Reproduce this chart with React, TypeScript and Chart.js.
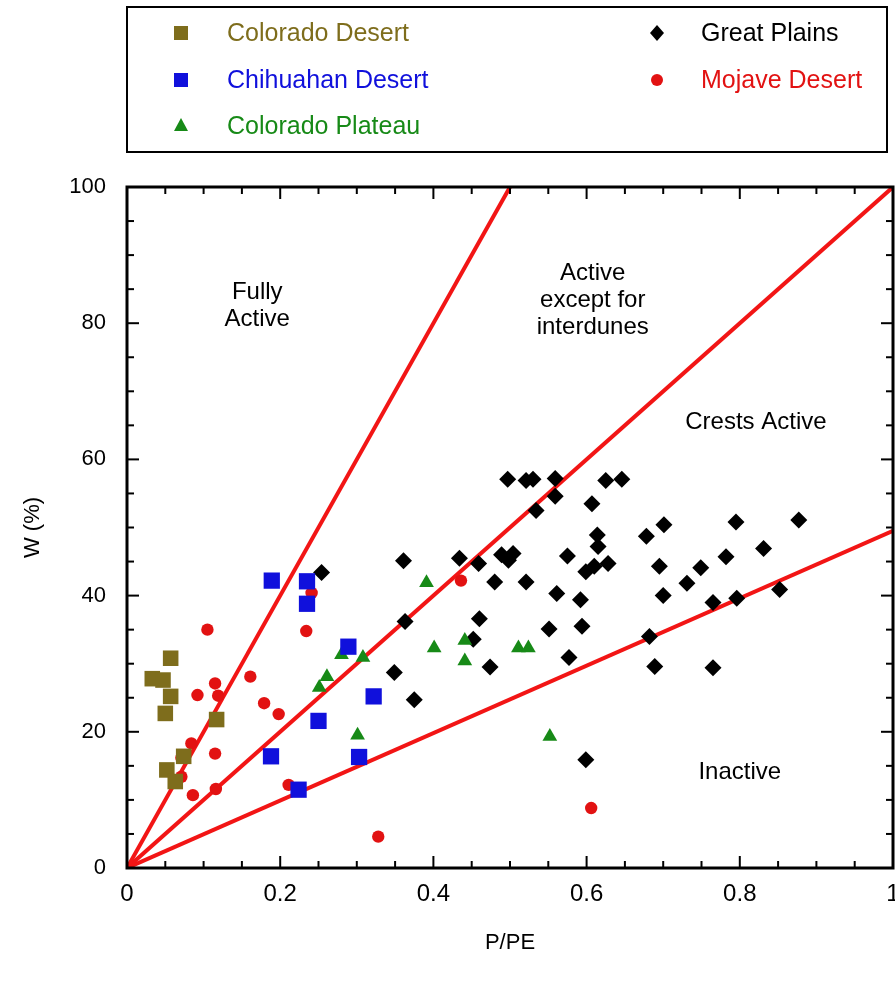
import React, { useEffect, useRef } from "react";
import { Chart, registerables } from "chart.js";

Chart.register(...registerables);

const FONT = "'Liberation Sans', Arial, Helvetica, sans-serif";

// ---- Series data (P/PE, W %) ----
const coloradoDesertX = [0.033, 0.047, 0.057, 0.057, 0.050, 0.117, 0.074, 0.052, 0.063];
const coloradoDesertY = [27.8, 27.6, 30.8, 25.2, 22.7, 21.8, 16.4, 14.4, 12.7];

const chihuahanX = [0.189, 0.235, 0.235, 0.289, 0.322, 0.250, 0.188, 0.303, 0.224];
const chihuahanY = [42.2, 42.1, 38.8, 32.5, 25.2, 21.6, 16.4, 16.3, 11.5];

const plateauX = [0.280, 0.308, 0.261, 0.251, 0.301, 0.391, 0.401, 0.441, 0.441, 0.511, 0.524, 0.552];
const plateauY = [31.3, 30.9, 28.1, 26.5, 19.5, 41.9, 32.3, 33.4, 30.4, 32.3, 32.3, 19.3];

const greatPlainsX = [
  0.254, 0.361, 0.363, 0.349, 0.375, 0.434, 0.459, 0.480, 0.460, 0.452, 0.474,
  0.489, 0.498, 0.504, 0.497, 0.521, 0.530, 0.559, 0.559, 0.534, 0.521, 0.561, 0.551, 0.577,
  0.575, 0.599, 0.610, 0.628, 0.607, 0.614, 0.615, 0.625, 0.646, 0.592, 0.594, 0.599,
  0.678, 0.701, 0.695, 0.700, 0.682, 0.689, 0.731, 0.749, 0.782, 0.795, 0.831, 0.852, 0.765, 0.796, 0.765, 0.877,
];
const greatPlainsY = [
  43.4, 45.1, 36.2, 28.7, 24.7, 45.5, 44.7, 42.0, 36.6, 33.6, 29.5,
  46.0, 45.2, 46.2, 57.1, 56.9, 57.1, 57.2, 54.6, 52.5, 42.0, 40.3, 35.1, 30.9,
  45.8, 43.5, 44.3, 44.7, 53.5, 48.9, 47.2, 56.9, 57.1, 39.4, 35.5, 15.9,
  48.7, 50.4, 44.3, 40.0, 34.0, 29.6, 41.8, 44.1, 45.7, 50.8, 46.9, 40.9, 39.0, 39.6, 29.4, 51.1,
];

const mojaveX = [0.241, 0.105, 0.234, 0.161, 0.115, 0.092, 0.119, 0.179, 0.198, 0.084, 0.071, 0.115, 0.071, 0.086, 0.116, 0.211, 0.328, 0.436, 0.606];
const mojaveY = [40.4, 35.0, 34.8, 28.1, 27.1, 25.4, 25.3, 24.2, 22.6, 18.3, 16.2, 16.8, 13.4, 10.7, 11.6, 12.2, 4.6, 42.2, 8.8];

// Boundary lines from the origin
const boundaryEndX = [0.5, 1, 1];
const boundaryEndY = [100, 100, 49.5];

// Axis ticks
const xTickValues = [0, 0.2, 0.4, 0.6, 0.8, 1];
const yTickValues = [0, 20, 40, 60, 80, 100];
const xMinorStep = 0.05;
const yMinorStep = 5;

const seriesNames = ["Colorado Desert", "Chihuahan Desert", "Colorado Plateau", "Great Plains", "Mojave Desert"];

// Region labels
const regionLabels = [["Fully", "Active"], ["Active", "except for", "interdunes"], ["Crests Active"], ["Inactive"]];
const regionLabelX = [0.17, 0.608, 0.821, 0.80];
const regionLabelY = [82.6, 83.4, 65.5, 14.0];

const COLORS = {
  olive: "#7e6d1c",
  blue: "#1010dc",
  green: "#178a17",
  black: "#000000",
  red: "#e21212",
  line: "#f21515",
};

const toPoints = (xs: number[], ys: number[]) => xs.map((x, i) => ({ x, y: ys[i] }));

function drawMarker(ctx: CanvasRenderingContext2D, style: string, x: number, y: number, color: string) {
  ctx.fillStyle = color;
  ctx.beginPath();
  if (style === "rect") {
    ctx.rect(x - 7, y - 7, 14, 14);
  } else if (style === "triangle") {
    ctx.moveTo(x, y - 8);
    ctx.lineTo(x + 7, y + 5);
    ctx.lineTo(x - 7, y + 5);
    ctx.closePath();
  } else if (style === "rectRot") {
    ctx.moveTo(x, y - 8);
    ctx.lineTo(x + 7, y);
    ctx.lineTo(x, y + 8);
    ctx.lineTo(x - 7, y);
    ctx.closePath();
  } else {
    ctx.arc(x, y, 6, 0, Math.PI * 2);
  }
  ctx.fill();
}

export default function App() {
  const ref = useRef<HTMLCanvasElement>(null);

  useEffect(() => {
    const canvas = ref.current;
    if (!canvas) return;

    const framePlugin = {
      id: "frameTicks",
      afterDatasetsDraw(chart: any) {
        const { ctx, chartArea: a, scales } = chart;
        const xs = scales.x;
        const ys = scales.y;
        ctx.save();
        ctx.strokeStyle = "#000";
        ctx.lineWidth = 2;
        const seg = (x1: number, y1: number, x2: number, y2: number) => {
          ctx.beginPath();
          ctx.moveTo(x1, y1);
          ctx.lineTo(x2, y2);
          ctx.stroke();
        };
        const nx = Math.round((xs.max - xs.min) / xMinorStep);
        for (let i = 0; i <= nx; i++) {
          const v = xs.min + i * xMinorStep;
          const px = xs.getPixelForValue(v);
          const major = xTickValues.some((t) => Math.abs(t - v) < 1e-9);
          const len = major ? 12 : 7;
          seg(px, a.bottom, px, a.bottom - len);
          seg(px, a.top, px, a.top + len);
        }
        const ny = Math.round((ys.max - ys.min) / yMinorStep);
        for (let i = 0; i <= ny; i++) {
          const v = ys.min + i * yMinorStep;
          const py = ys.getPixelForValue(v);
          const major = yTickValues.some((t) => Math.abs(t - v) < 1e-9);
          const len = major ? 12 : 7;
          seg(a.left, py, a.left + len, py);
          seg(a.right, py, a.right - len, py);
        }
        ctx.lineWidth = 3;
        ctx.strokeRect(a.left, a.top, a.right - a.left, a.bottom - a.top);
        ctx.restore();
      },
    };

    const overlayPlugin = {
      id: "overlay",
      afterDraw(chart: any) {
        const { ctx, scales } = chart;
        ctx.save();
        // Region labels
        ctx.fillStyle = "#000";
        ctx.font = `24px ${FONT}`;
        ctx.textAlign = "center";
        ctx.textBaseline = "middle";
        regionLabels.forEach((lines, i) => {
          const cx = scales.x.getPixelForValue(regionLabelX[i]);
          const cy = scales.y.getPixelForValue(regionLabelY[i]);
          const lh = 27;
          const start = cy - ((lines.length - 1) * lh) / 2;
          lines.forEach((t, j) => ctx.fillText(t, cx, start + j * lh));
        });

        // Legend box
        ctx.lineWidth = 2;
        ctx.strokeStyle = "#000";
        ctx.strokeRect(127, 7, 760, 145);
        const slots = [
          { mx: 181, tx: 227, y: 33 },
          { mx: 181, tx: 227, y: 80 },
          { mx: 181, tx: 227, y: 126 },
          { mx: 657, tx: 701, y: 33 },
          { mx: 657, tx: 701, y: 80 },
        ];
        ctx.textAlign = "left";
        ctx.font = `25px ${FONT}`;
        chart.data.datasets.slice(0, 5).forEach((ds: any, i: number) => {
          const s = slots[i];
          drawMarker(ctx, ds.pointStyle, s.mx, s.y, ds.backgroundColor);
          ctx.fillStyle = ds.backgroundColor;
          ctx.fillText(ds.label, s.tx, s.y + 1);
        });
        ctx.restore();
      },
    };

    const scatterDs = (label: string, xs: number[], ys: number[], style: string, color: string, r: number) => ({
      type: "scatter" as const,
      label,
      data: toPoints(xs, ys),
      pointStyle: style,
      pointRadius: r,
      pointHoverRadius: r,
      backgroundColor: color,
      borderColor: color,
      borderWidth: 0,
    });

    const lineDs = boundaryEndX.map((ex, i) => ({
      type: "scatter" as const,
      label: `boundary ${i + 1}`,
      data: [
        { x: 0, y: 0 },
        { x: ex, y: boundaryEndY[i] },
      ],
      showLine: true,
      borderColor: COLORS.line,
      backgroundColor: COLORS.line,
      borderWidth: 4,
      pointRadius: 0,
      pointHoverRadius: 0,
      fill: false,
      tension: 0,
    }));

    const chart = new Chart(canvas, {
      type: "scatter",
      data: {
        datasets: [
          scatterDs(seriesNames[0], coloradoDesertX, coloradoDesertY, "rect", COLORS.olive, 11),
          scatterDs(seriesNames[1], chihuahanX, chihuahanY, "rect", COLORS.blue, 11.5),
          scatterDs(seriesNames[2], plateauX, plateauY, "triangle", COLORS.green, 8.5),
          scatterDs(seriesNames[3], greatPlainsX, greatPlainsY, "rectRot", COLORS.black, 8.5),
          scatterDs(seriesNames[4], mojaveX, mojaveY, "circle", COLORS.red, 6.2),
          ...lineDs,
        ] as any,
      },
      options: {
        responsive: false,
        animation: false,
        devicePixelRatio: 1,
        layout: { autoPadding: false, padding: { top: 187, right: 2, left: 0, bottom: 0 } },
        plugins: {
          legend: { display: false },
          tooltip: { enabled: false },
        },
        scales: {
          x: {
            type: "linear",
            position: "bottom",
            min: 0,
            max: 1,
            grid: { display: false, drawTicks: false },
            border: { display: false },
            ticks: {
              color: "#000",
              font: { family: FONT, size: 24 },
              padding: 12,
              maxRotation: 0,
              autoSkip: false,
              callback: (v: any) => String(Math.round(Number(v) * 10) / 10),
            },
            title: {
              display: true,
              text: "P/PE",
              color: "#000",
              font: { family: FONT, size: 22 },
              padding: { top: 0, bottom: 27 },
            },
            afterBuildTicks: (s: any) => {
              s.ticks = xTickValues.map((v) => ({ value: v }));
            },
            afterFit: (s: any) => {
              s.height = 115;
              s.paddingLeft = 0;
              s.paddingRight = 0;
            },
          },
          y: {
            type: "linear",
            position: "left",
            min: 0,
            max: 100,
            grid: { display: false, drawTicks: false },
            border: { display: false },
            ticks: {
              color: "#000",
              font: { family: FONT, size: 22 },
              padding: 21,
              autoSkip: false,
              callback: (v: any) => String(v),
            },
            title: {
              display: true,
              text: "W (%)",
              color: "#000",
              font: { family: FONT, size: 22 },
              padding: { top: 20, bottom: 0 },
            },
            afterBuildTicks: (s: any) => {
              s.ticks = yTickValues.map((v) => ({ value: v }));
            },
            afterFit: (s: any) => {
              s.width = 127;
              s.paddingTop = 0;
              s.paddingBottom = 0;
            },
          },
        },
      } as any,
      plugins: [framePlugin, overlayPlugin],
    });

    return () => chart.destroy();
  }, []);

  return (
    <div style={{ position: "absolute", left: 0, top: 0, width: 895, height: 983, background: "#fff" }}>
      <canvas ref={ref} width={895} height={983} style={{ display: "block", width: 895, height: 983 }} />
    </div>
  );
}
